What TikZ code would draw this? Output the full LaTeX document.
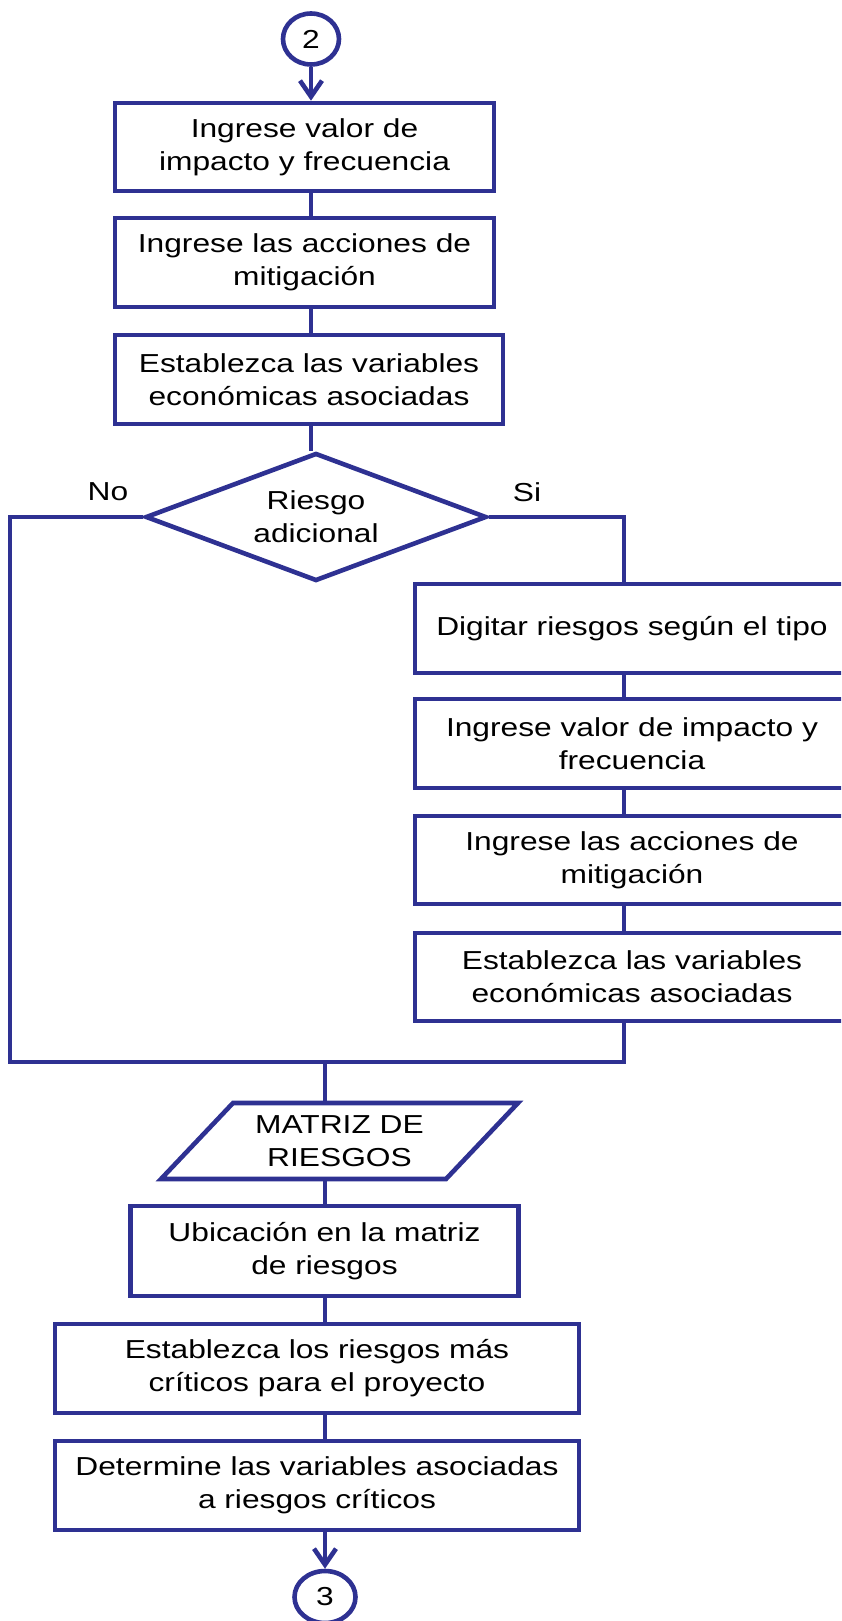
\documentclass[tikz,border=0pt]{standalone}
\usepackage{fontspec}
\setmainfont{Liberation Sans}[FakeStretch=1.22]
\usetikzlibrary{shapes.geometric,arrows.meta}
\definecolor{flowblue}{RGB}{46,49,146}
\begin{document}
\begin{tikzpicture}[x=1pt,y=-1pt,
  every node/.style={font=\fontsize{26}{33}\selectfont, text=black, align=center},
  stepbox/.style={draw=flowblue, line width=4.6pt, rectangle, inner sep=0pt},
  link/.style={draw=flowblue, line width=4.6pt},
  arrowlink/.style={link, -{Straight Barb[length=16pt,width=22pt]}},
  connector/.style={draw=flowblue, line width=4.6pt, ellipse, inner sep=0pt},
  decision/.style={draw=flowblue, line width=4.6pt, diamond, inner sep=0pt, shape aspect=2.6},
]
\useasboundingbox (0,0) rectangle (841,1621);
\clip (0,0) rectangle (841,1621);

% main column, top part
\node[connector, minimum width=56pt, minimum height=51pt] (c2) at (311,39) {2};
\node[stepbox, minimum width=379pt, minimum height=88pt] (b1) at (304.5,147) {Ingrese valor de\\impacto y frecuencia};
\node[stepbox, minimum width=379pt, minimum height=89pt] (b2) at (304.5,262.5) {Ingrese las acciones de\\mitigación};
\node[stepbox, minimum width=388pt, minimum height=89pt] (b3) at (309,379.5) {Establezca las variables\\económicas asociadas};
\node[decision, minimum width=341pt, minimum height=128pt] (d) at (316,517) {Riesgo\\adicional};
\node (no) at (108,492) {No};
\node (si) at (527,492) {Si};

% branch for an additional risk
\node[stepbox, minimum width=434pt, minimum height=89pt] (b4) at (632,628.5) {Digitar riesgos según el tipo};
\node[stepbox, minimum width=434pt, minimum height=89pt] (b5) at (632,743.5) {Ingrese valor de impacto y\\frecuencia};
\node[stepbox, minimum width=434pt, minimum height=88pt] (b6) at (632,860) {Ingrese las acciones de\\mitigación};
\node[stepbox, minimum width=434pt, minimum height=88pt] (b7) at (632,977) {Establezca las variables\\económicas asociadas};

% helper points of the loop lines
\coordinate (lft) at (10,1062);
\coordinate (rt) at (624,517);
\coordinate (join) at (325,1062);

% risk matrix (parallelogram) and the final steps
\node[minimum height=76pt, inner sep=0pt] (p) at (339.5,1141) {MATRIZ DE\\RIESGOS};
\draw[link] (p.center) ++(-106.5,-38) -- ++(285,0) -- ++(-72,76) -- ++(-285,0) -- cycle;
\node[stepbox, minimum width=388pt, minimum height=90pt] (b8) at (324.5,1251) {Ubicación en la matriz\\de riesgos};
\node[stepbox, minimum width=524pt, minimum height=89pt] (b9) at (317,1368.5) {Establezca los riesgos más\\críticos para el proyecto};
\node[stepbox, minimum width=524pt, minimum height=89pt] (b10) at (317,1485.5) {Determine las variables asociadas\\a riesgos críticos};
\node[connector, minimum width=61pt, minimum height=52pt] (c3) at (325,1597) {3};

% connectors
\draw[arrowlink] (c2.south) -- (b1.north -| c2.south);
\draw[link] (b1.south -| c2) -- (b2.north -| c2);
\draw[link] (b2.south -| c2) -- (b3.north -| c2);
\draw[link] (b3.south -| c2) -- (d.north -| c2);
\draw[link] (d.east) -- (rt) -- (b4.north -| rt);
\draw[link] (b4.south -| rt) -- (b5.north -| rt);
\draw[link] (b5.south -| rt) -- (b6.north -| rt);
\draw[link] (b6.south -| rt) -- (b7.north -| rt);
\draw[link] (d.west) -| (lft) -- (rt |- lft) -- (b7.south -| rt);
\draw[link] (join) -- (p.north -| join);
\draw[link] (p.south -| join) -- (b8.north -| join);
\draw[link] (b8.south -| join) -- (b9.north -| join);
\draw[link] (b9.south -| join) -- (b10.north -| join);
\draw[arrowlink] (b10.south -| c3) -- (c3.north);
\end{tikzpicture}
\end{document}
